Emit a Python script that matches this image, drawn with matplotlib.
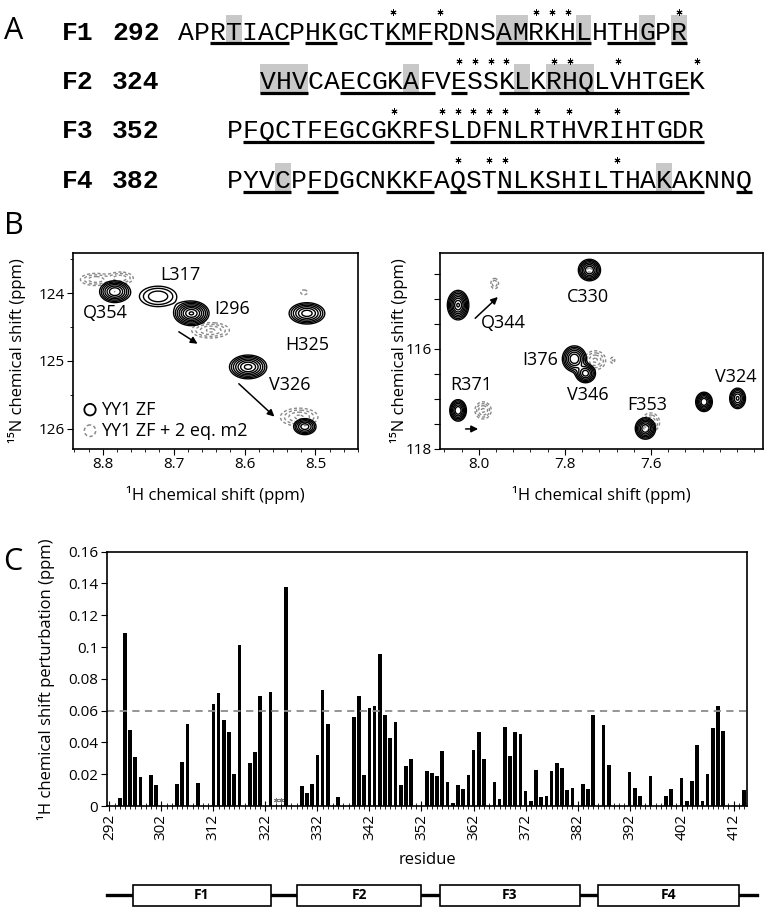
import numpy as np
import matplotlib.pyplot as plt
from matplotlib.patches import Rectangle, Ellipse

plt.rcParams['font.family'] = ['Open Sans', 'DejaVu Sans']
plt.rcParams['lines.dashed_pattern'] = [2.2, 1.6]

W, H = 766, 907

# ---------------- panel A: sequence data
seq_labels = ['F1', 'F2', 'F3', 'F4']
seq_starts = [292, 324, 352, 382]
seqs = ['APRTIACPHKGCTKMFRDNSAMRKHLHTHGPR',
        'VHVCAECGKAFVESSKLKRHQLVHTGEK',
        'PFQCTFEGCGKRFSLDFNLRTHVRIHTGDR',
        'PYVCPFDGCNKKFAQSTNLKSHILTHAKAKNNQ']
underlined = [[(2, 6), (8, 9), (13, 15), (17, 17), (20, 25), (27, 29), (31, 31)],
              [(0, 2), (5, 10), (12, 12), (15, 26)],
              [(1, 12), (14, 29)],
              [(1, 3), (5, 6), (10, 12), (14, 14), (17, 29), (32, 32)]]
shaded = [[3, 20, 21, 25, 29, 31],
          [0, 1, 2, 9, 16, 18, 19, 20],
          [],
          [3, 27]]
starred = [[13, 16, 22, 23, 24, 31],
           [12, 13, 14, 15, 18, 19, 22, 27],
           [10, 13, 14, 15, 16, 17, 19, 21, 24],
           [14, 16, 17, 24]]

# ---------------- panel B: peaks (x ppm, y ppm, amplitude, sigma x, sigma y)
free_left = [(8.783, 123.98, 1.0, 0.010, 0.075),
             (8.722, 124.05, 0.35, 0.0165, 0.095),
             (8.675, 124.30, 1.3, 0.011, 0.080),
             (8.512, 124.30, 0.9, 0.012, 0.075),
             (8.595, 125.09, 1.1, 0.012, 0.080),
             (8.515, 125.97, 0.7, 0.008, 0.060)]
bound_left = [(8.810, 123.80, 0.5, 0.012, 0.050),
              (8.775, 123.78, 0.5, 0.010, 0.050),
              (8.648, 124.55, 0.6, 0.014, 0.060),
              (8.516, 123.99, 0.2, 0.004, 0.030),
              (8.523, 125.83, 0.6, 0.014, 0.070)]
labels_left = [('Q354', 8.797, 124.30), ('L317', 8.690, 123.73), ('I296', 8.618, 124.24),
               ('H325', 8.512, 124.77), ('V326', 8.536, 125.36)]
arrows_left = [((8.696, 124.55), (8.663, 124.77)), ((8.611, 125.31), (8.555, 125.85))]

free_right = [(8.048, 115.13, 1.3, 0.011, 0.13),
              (8.048, 117.23, 1.0, 0.009, 0.10),
              (7.743, 114.43, 1.0, 0.012, 0.10),
              (7.778, 116.20, 1.0, 0.013, 0.12),
              (7.752, 116.49, 0.9, 0.011, 0.09),
              (7.613, 117.59, 1.0, 0.011, 0.10),
              (7.477, 117.06, 1.0, 0.009, 0.09),
              (7.399, 116.99, 0.8, 0.009, 0.10)]
bound_right = [(7.963, 114.70, 0.3, 0.006, 0.07),
               (7.990, 117.23, 0.6, 0.010, 0.09),
               (7.743, 114.43, 0.6, 0.012, 0.10),
               (7.730, 116.23, 0.6, 0.013, 0.10),
               (7.689, 116.23, 0.2, 0.004, 0.05),
               (7.601, 117.47, 0.6, 0.011, 0.10)]
labels_right = [('C330', 7.747, 114.96), ('Q344', 7.944, 115.49), ('I376', 7.858, 116.23),
                ('V346', 7.747, 116.93), ('R371', 8.018, 116.73), ('F353', 7.608, 117.13),
                ('V324', 7.402, 116.57)]
arrows_right = [((8.013, 115.43), (7.951, 114.93)), ((8.037, 117.60), (7.995, 117.60))]

# ---------------- panel C: 1H chemical shift perturbation per residue
residues = [294, 295, 296, 297, 298, 300, 301, 305, 306, 307, 309, 312, 313, 314, 315, 316, 317,
            319, 320, 321, 323, 326, 329, 330, 331, 332, 333, 334, 336, 339, 340, 341, 342, 343,
            344, 345, 346, 347, 348, 349, 350, 353, 354, 355, 356, 357, 358, 359, 360, 361, 362,
            363, 364, 366, 367, 368, 369, 370, 371, 372, 373, 374, 375, 376, 377, 378, 379, 380,
            381, 383, 384, 385, 387, 388, 392, 393, 394, 396, 399, 400, 402, 403, 404, 405, 406,
            407, 408, 409, 410, 414]
shifts = [0.005, 0.109, 0.048, 0.031, 0.018, 0.0196, 0.0133, 0.014, 0.0274, 0.0514, 0.0143,
          0.064, 0.0714, 0.054, 0.0467, 0.0204, 0.101, 0.027, 0.0337, 0.0695, 0.0718, 0.138,
          0.0126, 0.0082, 0.014, 0.0324, 0.073, 0.0516, 0.0057, 0.056, 0.069, 0.0196, 0.0617,
          0.063, 0.0958, 0.0573, 0.0425, 0.0528, 0.0133, 0.025, 0.0297, 0.0223, 0.021, 0.019,
          0.0343, 0.015, 0.002, 0.013, 0.0109, 0.0193, 0.0351, 0.0465, 0.0293, 0.0148, 0.0047,
          0.0497, 0.0313, 0.0465, 0.0454, 0.0096, 0.0034, 0.0225, 0.0056, 0.0066, 0.022, 0.027,
          0.024, 0.010, 0.0113, 0.0137, 0.0105, 0.0572, 0.051, 0.0259, 0.0212, 0.0113, 0.0062,
          0.0186, 0.0066, 0.0109, 0.0178, 0.003, 0.016, 0.0381, 0.003, 0.0199, 0.049, 0.063,
          0.0475, 0.0099]
missing = [324, 325]
threshold = 0.06
domains = ['F1', 'F2', 'F3', 'F4']
domain_start = [296.5, 328, 355.5, 386]
domain_end = [323, 352, 382.5, 413]


def rect(x0, y0, x1, y1):
    return [x0 / W, 1 - y1 / H, (x1 - x0) / W, (y1 - y0) / H]


def spectrum(peaks, xg, yg):
    X, Y = np.meshgrid(xg, yg)
    Z = np.zeros_like(X)
    for x0, y0, a, sx, sy in peaks:
        Z += a * np.exp(-((X - x0) ** 2 / (2 * sx ** 2) + (Y - y0) ** 2 / (2 * sy ** 2)))
    return X, Y, Z


fig = plt.figure(figsize=(W / 100, H / 100), dpi=100)

# ---------------- A
axA = fig.add_axes([0, 1 - 205 / H, 1, 205 / H])
axA.set_xlim(0, W)
axA.set_ylim(205, 0)
axA.axis('off')
cw = 15.9
row_x0 = [178, 260, 227, 227]
row_base = [39.5, 89, 138.5, 188]
for i in range(4):
    x0, yb = row_x0[i], row_base[i]
    for j in shaded[i]:
        axA.add_patch(Rectangle((x0 + j * cw, yb - 25), cw, 30, color='#c8c8c8', lw=0))
    for a, b in underlined[i]:
        axA.plot([x0 + a * cw, x0 + (b + 1) * cw], [yb + 3.5, yb + 3.5], color='k', lw=2.3,
                 solid_capstyle='butt')
    for j, ch in enumerate(seqs[i]):
        axA.text(x0 + (j + 0.5) * cw, yb, ch, ha='center', va='baseline',
                 family='Liberation Mono', fontsize=19)
    sx = [x0 + (j + 0.5) * cw for j in starred[i]]
    axA.plot(sx, [yb - 28] * len(sx), ls='none', marker=(6, 2, 0), ms=4.3, mew=0.7, color='k')
    axA.text(62, yb, seq_labels[i], ha='left', va='baseline', family='Liberation Mono',
             fontsize=19, fontweight='bold')
    axA.text(112, yb, str(seq_starts[i]), ha='left', va='baseline', family='Liberation Mono',
             fontsize=19, fontweight='bold')

fig.text(14 / W, 1 - 31 / H, 'A', fontsize=22, ha='center', va='center')
fig.text(14 / W, 1 - 226 / H, 'B', fontsize=22, ha='center', va='center')
fig.text(13 / W, 1 - 562 / H, 'C', fontsize=22, ha='center', va='center')

# ---------------- B
black_levels = [0.1, 0.16, 0.25, 0.38, 0.55, 0.75, 1.0, 1.25]
gray_levels = [0.1, 0.2, 0.35, 0.55]

axL = fig.add_axes(rect(73, 253, 358, 449))
xg = np.linspace(8.44, 8.85, 700)
yg = np.linspace(123.4, 126.3, 600)
X, Y, Z = spectrum(bound_left, xg, yg)
axL.contour(X, Y, Z, levels=gray_levels, colors='#8a8a8a', linewidths=1.0, linestyles='dashed')
X, Y, Z = spectrum(free_left, xg, yg)
axL.contour(X, Y, Z, levels=black_levels, colors='k', linewidths=1.0, linestyles='solid')
for name, lx, ly in labels_left:
    axL.text(lx, ly, name, fontsize=13, ha='center', va='center')
for (sx_, sy_), (ex, ey) in arrows_left:
    axL.annotate('', xy=(ex, ey), xytext=(sx_, sy_),
                 arrowprops=dict(arrowstyle='-|>', color='k', lw=1.1, mutation_scale=10))
axL.add_patch(Ellipse((8.818, 125.72), 0.016, 0.17, fill=False, ec='k', lw=1.3))
axL.add_patch(Ellipse((8.818, 126.03), 0.016, 0.17, fill=False, ec='#8a8a8a', lw=1.1, ls='--'))
axL.text(8.802, 125.72, 'YY1 ZF', fontsize=13, ha='left', va='center')
axL.text(8.802, 126.03, 'YY1 ZF + 2 eq. m2', fontsize=13, ha='left', va='center')
axL.set_xlim(8.842, 8.44)
axL.set_ylim(126.3, 123.41)
axL.set_xticks([8.8, 8.7, 8.6, 8.5])
axL.set_xticks(np.arange(8.44, 8.842, 0.02), minor=True)
axL.set_yticks([124, 125, 126])
axL.set_yticks([123.5, 124.5, 125.5], minor=True)
axL.tick_params(which='major', direction='out', length=4, labelsize=11, pad=2)
axL.tick_params(which='minor', direction='out', length=2.5)

axR = fig.add_axes(rect(440, 253, 763, 449))
xg = np.linspace(7.3, 8.12, 800)
yg = np.linspace(114.0, 118.1, 600)
X, Y, Z = spectrum(bound_right, xg, yg)
axR.contour(X, Y, Z, levels=gray_levels, colors='#8a8a8a', linewidths=1.0, linestyles='dashed')
X, Y, Z = spectrum(free_right, xg, yg)
axR.contour(X, Y, Z, levels=black_levels, colors='k', linewidths=1.0, linestyles='solid')
for name, lx, ly in labels_right:
    axR.text(lx, ly, name, fontsize=13, ha='center', va='center')
for (sx_, sy_), (ex, ey) in arrows_right:
    axR.annotate('', xy=(ex, ey), xytext=(sx_, sy_),
                 arrowprops=dict(arrowstyle='-|>', color='k', lw=1.1, mutation_scale=10))
axR.set_xlim(8.09, 7.34)
axR.set_ylim(118.0, 114.09)
axR.set_xticks([8.0, 7.8, 7.6])
axR.set_xticks(np.arange(7.36, 8.09, 0.04), minor=True)
axR.set_yticks(np.arange(114.5, 118.01, 0.5))
axR.set_yticklabels(['' if v not in (116, 118) else '%d' % v for v in np.arange(114.5, 118.01, 0.5)])
axR.tick_params(which='major', direction='out', length=4, labelsize=11, pad=2)
axR.tick_params(which='minor', direction='out', length=2.5)

for ax in (axL, axR):
    for s in ax.spines.values():
        s.set_linewidth(1.2)

fig.text(17 / W, 1 - 351 / H, '¹⁵N chemical shift (ppm)', rotation=90, fontsize=12,
         ha='center', va='center')
fig.text(399 / W, 1 - 351 / H, '¹⁵N chemical shift (ppm)', rotation=90, fontsize=12,
         ha='center', va='center')
fig.text(215 / W, 1 - 495 / H, '¹H chemical shift (ppm)', fontsize=12, ha='center', va='center')
fig.text(601 / W, 1 - 495 / H, '¹H chemical shift (ppm)', fontsize=12, ha='center', va='center')

# ---------------- C
axC = fig.add_axes(rect(106.7, 551.7, 746.7, 806))
axC.bar(residues, shifts, width=0.7, color='k')
axC.axhline(threshold, color='#8c8c8c', lw=1.3, dashes=(4, 3))
axC.plot(missing, [0.004] * len(missing), ls='none', marker=(6, 2, 0), ms=3.5, mew=0.7,
         color='#7a7a7a')
axC.set_xlim(291.5, 414.5)
axC.set_ylim(0, 0.16)
axC.set_xticks(np.arange(292, 413, 10))
axC.set_xticks(np.arange(292, 415), minor=True)
axC.set_yticks(np.arange(0, 0.161, 0.02))
axC.set_yticklabels(['%g' % round(v, 2) for v in np.arange(0, 0.161, 0.02)])
axC.tick_params(axis='x', which='major', direction='inout', length=7, labelrotation=90,
                labelsize=11, pad=2)
axC.tick_params(axis='x', which='minor', direction='inout', length=4.5)
axC.tick_params(axis='y', direction='out', length=4, labelsize=11, pad=2)
for s in axC.spines.values():
    s.set_linewidth(1.2)
fig.text(46 / W, 1 - 679 / H, '¹H chemical shift perturbation (ppm)', rotation=90, fontsize=12,
         ha='center', va='center')
fig.text(427 / W, 1 - 860 / H, 'residue', fontsize=12, ha='center', va='center')

# domain diagram
axD = fig.add_axes(rect(106.7, 883, 746.7, 907))
axD.set_xlim(291.5, 414.5)
axD.set_ylim(0, 1)
axD.axis('off')
axD.plot([291.5, 416.5], [0.5, 0.5], color='k', lw=2.4, clip_on=False, zorder=1)
for name, a, b in zip(domains, domain_start, domain_end):
    axD.add_patch(Rectangle((a, 0.06), b - a, 0.86, fc='white', ec='k', lw=1.2, zorder=2,
                            clip_on=False))
    axD.text((a + b) / 2, 0.49, name, fontsize=10, fontweight='bold', ha='center', va='center',
             zorder=3)

fig.savefig('out.png', dpi=100)
